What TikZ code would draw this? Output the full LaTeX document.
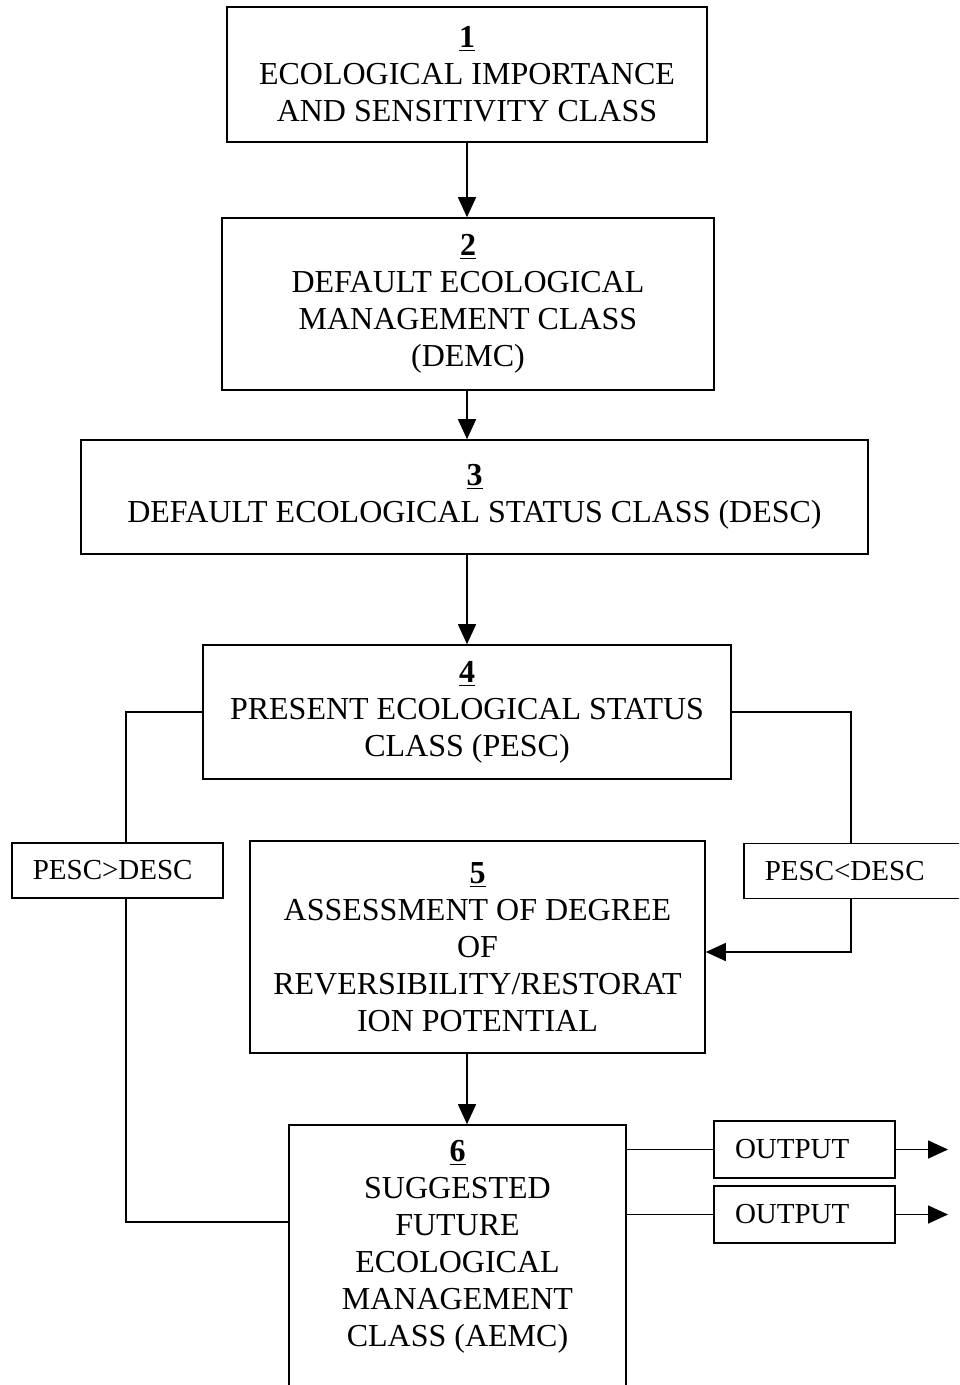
\documentclass[tikz,border=0pt]{standalone}
\usepackage{fontspec}
\setmainfont{Liberation Serif}
\usetikzlibrary{positioning,arrows.meta}
\newcommand{\boxnum}[1]{\underline{\textbf{#1}}}

\begin{document}
\begin{tikzpicture}[
      x=0.5pt, y=-0.5pt,
      font=\fontsize{16}{18.5}\selectfont,
      box/.style={draw, line width=0.8pt, align=center, inner sep=2pt},
      cond/.style={draw, line width=0.8pt, align=left, inner xsep=10.5pt,
        minimum height=27.5pt, font=\fontsize{14.5}{17}\selectfont},
      conn/.style={draw, line width=0.8pt},
      arr/.style={conn, -{Triangle[length=10pt, width=9pt]}}
    ]
    % ---- page: 959 x 1385 px, 1 px = 0.5pt ----
    \useasboundingbox (0,0) rectangle (959,1385);
    \clip (0,0) rectangle (959,1385);

    % ---- main column ----
    \node[box, minimum width=240pt, minimum height=67.5pt] (eisc) at (467,74.5)
      {\boxnum{1}\\ECOLOGICAL IMPORTANCE\\AND SENSITIVITY CLASS};
    \node[box, minimum width=246pt, minimum height=86pt] (demc) at (468,304)
      {\boxnum{2}\\DEFAULT ECOLOGICAL\\MANAGEMENT CLASS\\(DEMC)};
    \node[box, minimum width=393.5pt, minimum height=57pt] (desc) at (474.5,497)
      {\boxnum{3}\\DEFAULT ECOLOGICAL STATUS CLASS (DESC)};
    \node[box, minimum width=264pt, minimum height=67pt] (pesc) at (467,712)
      {\boxnum{4}\\PRESENT ECOLOGICAL STATUS\\CLASS (PESC)};
    \node[box, minimum width=227.5pt, minimum height=106pt] (restore) at (477.5,947)
      {\boxnum{5}\\ASSESSMENT OF DEGREE\\OF\\REVERSIBILITY/RESTORAT\\ION POTENTIAL};
    % box 6 runs off the bottom of the page
    \node[box, minimum width=168.5pt, minimum height=147.5pt] (aemc) at (457.5,1272.5) {};
    \node[box, draw=none] (aemctext) at (457.5,1247)
      {\boxnum{6}\\SUGGESTED\\FUTURE\\ECOLOGICAL\\MANAGEMENT\\CLASS (AEMC)};

    % ---- side conditions ----
    \node[cond, text width=84.5pt, anchor=west] (gtcond) at (11,870.5) {PESC>DESC};
    \node[cond, text width=109pt, anchor=west] (ltcond) at (743,871) {PESC<DESC};

    % ---- outputs ----
    \node[cond, text width=69.5pt, minimum height=28.5pt] (outA) at (804.5,1149.5) {OUTPUT};
    \node[cond, text width=69.5pt, minimum height=28.5pt] (outB) at (804.5,1214.5) {OUTPUT};

    % ---- bend points ----
    \coordinate (spine) at (467,0);
    \coordinate (lbend) at (126,712);
    \coordinate (ljoin) at (126,1222);
    \coordinate (rbend) at (851,712);
    \coordinate (rjoin) at (851,952);
    \coordinate (outAend) at (948,1149.5);
    \coordinate (outBend) at (948,1214.5);

    % ---- connectors ----
    \draw[arr] (eisc.south -| spine) -- (demc.north -| spine);
    \draw[arr] (demc.south -| spine) -- (desc.north -| spine);
    \draw[arr] (desc.south -| spine) -- (pesc.north -| spine);
    \draw[arr] (restore.south -| spine) -- (aemc.north -| spine);

    \draw[conn] (pesc.west) -- (lbend) -- (lbend |- gtcond.north);
    \draw[conn] (lbend |- gtcond.south) -- (ljoin) -- (ljoin -| aemc.west);
    \draw[conn] (pesc.east) -- (rbend) -- (rbend |- ltcond.north);
    \draw[arr] (rbend |- ltcond.south) -- (rjoin) -- (rjoin -| restore.east);

    \draw[conn] (aemc.east |- outA.west) -- (outA.west);
    \draw[conn] (aemc.east |- outB.west) -- (outB.west);
    \draw[arr] (outA.east) -- (outAend);
    \draw[arr] (outB.east) -- (outBend);
  \end{tikzpicture}
\end{document}
